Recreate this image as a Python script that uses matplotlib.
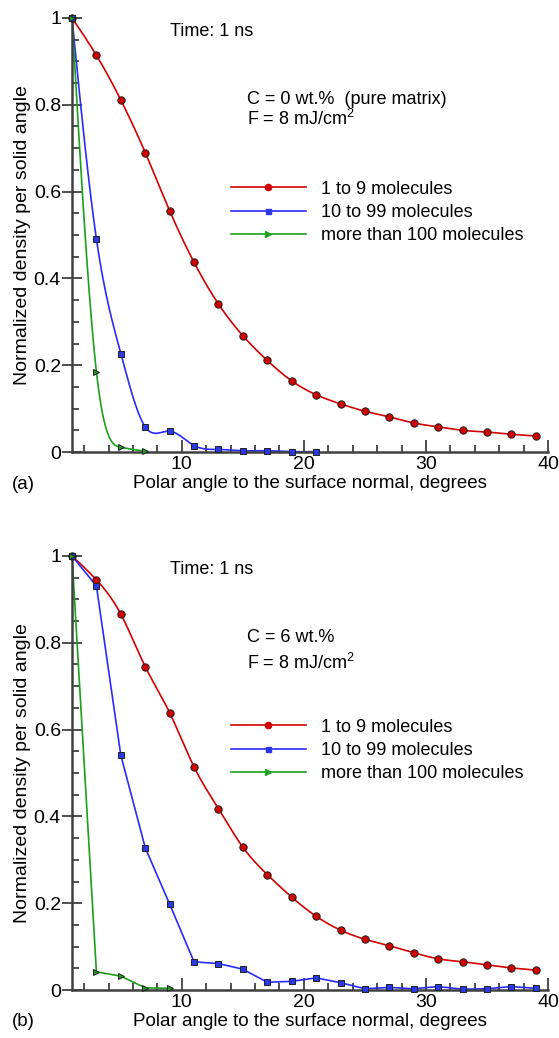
"""
Angular distribution of ejected clusters at 1 ns, two matrix concentrations.
"""
import numpy as np
import matplotlib
matplotlib.use("Agg")
from matplotlib import pyplot as plt

plt.rcParams["font.family"] = ["Liberation Sans", "DejaVu Sans"]
plt.rcParams["mathtext.default"] = "regular"

# polar angle bins (degrees)
angle = [1, 3, 5, 7, 9, 11, 13, 15, 17, 19, 21, 23, 25, 27, 29, 31, 33, 35, 37, 39]

# (a) C = 0 wt.%
a_small = [1.0, 0.914, 0.811, 0.690, 0.556, 0.437, 0.341, 0.268, 0.211, 0.164,
           0.132, 0.111, 0.094, 0.081, 0.067, 0.058, 0.050, 0.046, 0.041, 0.037]
a_medium = [1.0, 0.491, 0.227, 0.058, 0.048, 0.015, 0.006, 0.003, 0.003, 0.001, 0.001]
a_large = [1.0, 0.185, 0.011, 0.002]

# (b) C = 6 wt.%
b_small = [1.0, 0.945, 0.866, 0.745, 0.639, 0.514, 0.418, 0.329, 0.266, 0.214,
           0.170, 0.138, 0.117, 0.102, 0.086, 0.072, 0.065, 0.058, 0.051, 0.046]
b_medium = [1.0, 0.931, 0.541, 0.328, 0.198, 0.065, 0.061, 0.048, 0.018, 0.020,
            0.028, 0.017, 0.003, 0.006, 0.003, 0.008, 0.002, 0.003, 0.008, 0.004]
b_large = [1.0, 0.042, 0.032, 0.005, 0.004]

labels = ["1 to 9 molecules", "10 to 99 molecules", "more than 100 molecules"]


def spline(x, y, n=400):
    """natural cubic spline through the points, for drawing only"""
    x = np.asarray(x, float)
    y = np.asarray(y, float)
    k = len(x)
    h = np.diff(x)
    A = np.zeros((k, k))
    r = np.zeros(k)
    A[0, 0] = A[-1, -1] = 1
    for i in range(1, k - 1):
        A[i, i - 1] = h[i - 1]
        A[i, i] = 2 * (h[i - 1] + h[i])
        A[i, i + 1] = h[i]
        r[i] = 6 * ((y[i + 1] - y[i]) / h[i] - (y[i] - y[i - 1]) / h[i - 1])
    m = np.linalg.solve(A, r)
    xs = np.linspace(x[0], x[-1], n)
    j = np.clip(np.searchsorted(x, xs) - 1, 0, k - 2)
    t = xs - x[j]
    hj = h[j]
    b = (y[j + 1] - y[j]) / hj - hj * (2 * m[j] + m[j + 1]) / 6
    ys = y[j] + b * t + m[j] / 2 * t ** 2 + (m[j + 1] - m[j]) / (6 * hj) * t ** 3
    return xs, ys


styles = [
    dict(color="#d40000", marker="o", mfc="#d00000", ms=5.3, lms=4.5),
    dict(color="#2a2aff", marker="s", mfc="#2a3ae8", ms=4.3, lms=3.6),
    dict(color="#1aa01a", marker=">", mfc="#22a022", ms=5.0, lms=4.0),
]

fig = plt.figure(figsize=(5.59, 10.38), dpi=100)
ax_a = fig.add_axes([0.1288, 0.5645, 0.8515, 0.4182])
ax_b = fig.add_axes([0.1288, 0.0462, 0.8515, 0.4182])

panels = [
    (ax_a, [a_small, a_medium, a_large], [True, True, True],
     "C = 0 wt.%  (pure matrix)", 0.813, 0.767, "(a)", 485),
    (ax_b, [b_small, b_medium, b_large], [True, False, False],
     "C = 6 wt.%", 0.811, 0.754, "(b)", 1022),
]

for ax, series, smooth, ctext, cy, fy, tag, tag_y in panels:
    for vals, sm, st, lab in zip(series, smooth, styles, labels):
        xs = angle[:len(vals)]
        if sm:
            sx, sy = spline(xs, vals)
            ax.plot(sx, sy, color=st["color"], lw=1.2, zorder=2)
        else:
            ax.plot(xs, vals, color=st["color"], lw=1.2, zorder=2)
        ax.plot(xs, vals, ls="none", marker=st["marker"], ms=st["ms"],
                mfc=st["mfc"], mec="#202020", mew=0.7, zorder=3, clip_on=False)
        # proxy for legend
        ax.plot([], [], color=st["color"], lw=1.2, marker=st["marker"],
                ms=st["lms"], mfc=st["mfc"], mec=st["mfc"], label=lab)

    ax.set_xlim(1, 40)
    ax.set_ylim(0, 1)
    ax.set_xticks([10, 20, 30, 40])
    ax.set_xticks(np.arange(2, 40, 2), minor=True)
    ax.set_yticks([0, 0.2, 0.4, 0.6, 0.8, 1])
    ax.set_yticklabels(["0", "0.2", "0.4", "0.6", "0.8", "1"])
    ax.set_yticks(np.arange(0.05, 1, 0.05), minor=True)
    ax.tick_params(which="both", direction="in", color="#404040", width=1.3)
    ax.tick_params(which="major", length=8.5, labelsize=14, pad=3)
    ax.tick_params(which="minor", length=5)
    ax.tick_params(axis="y", which="major", direction="inout", length=14, pad=1)
    ax.spines["top"].set_visible(False)
    ax.spines["right"].set_visible(False)
    for s in ("left", "bottom"):
        ax.spines[s].set_color("#404040")
        ax.spines[s].set_linewidth(1.8)
    ax.set_xlabel("Polar angle to the surface normal, degrees", fontsize=13.5, labelpad=1)
    ax.set_ylabel("Normalized density per solid angle", fontsize=14, labelpad=2)

    ax.text(9.0, 0.968, "Time: 1 ns", fontsize=13, va="center")
    ax.text(15.3, cy, ctext, fontsize=13, va="center")
    ax.text(15.3, fy, r"F = 8 mJ/cm$^{\mathregular{2}}$", fontsize=13, va="center")
    ax.legend(loc="upper left", bbox_to_anchor=(0.333, 0.625), frameon=False,
              fontsize=13, handlelength=4.2, handletextpad=0.8, labelspacing=0.35,
              borderpad=0, borderaxespad=0, numpoints=1)
    fig.text(12 / 559, 1 - tag_y / 1038, tag, fontsize=13.5, va="center")

fig.savefig("out.png", dpi=100)
